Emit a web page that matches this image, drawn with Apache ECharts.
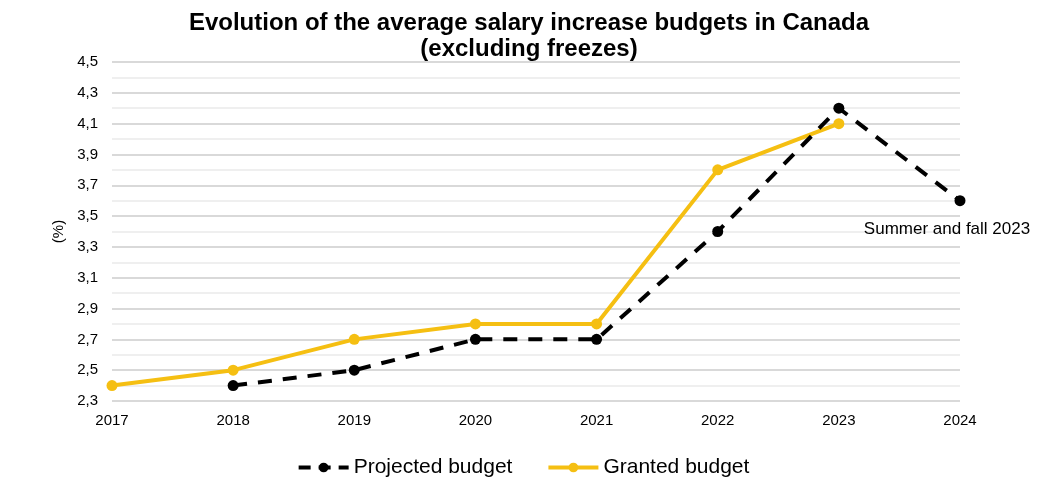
<!DOCTYPE html>
<html>
<head>
<meta charset="utf-8">
<script src="https://cdn.jsdelivr.net/npm/echarts@6/dist/echarts.min.js"></script>
<style>html,body{margin:0;padding:0;background:#fff;}#c{width:1046px;height:491px;}</style>
</head>
<body>
<div id="c"></div>
<script>
const categories = ['2017','2018','2019','2020','2021','2022','2023','2024'];
const projected = [null, 2.4, 2.5, 2.7, 2.7, 3.4, 4.2, 3.6];
const granted = [2.4, 2.5, 2.7, 2.8, 2.8, 3.8, 4.1, null];
const titleText = 'Evolution of the average salary increase budgets in Canada\n(excluding freezes)';
const annotation = 'Summer and fall 2023';

const chart = echarts.init(document.getElementById('c'));
const font = 'Liberation Sans, Arial, sans-serif';
const projData = projected.map((v, i) => {
  if (i === projected.length - 1) {
    return { value: v, label: { show: true, position: 'bottom', offset: [-13, 10], formatter: annotation, color: '#000', fontSize: 17, fontFamily: font } };
  }
  return v;
});
chart.setOption({
  animation: false,
  backgroundColor: '#fff',
  title: {
    text: titleText,
    left: 524, top: 5, textAlign: 'center',
    textStyle: { fontFamily: font, fontSize: 24, fontWeight: 'bold', color: '#000', lineHeight: 26 }
  },
  legend: {
    top: 452, left: 'center', itemGap: 34, itemWidth: 50, itemHeight: 12,
    textStyle: { fontFamily: font, fontSize: 21, color: '#000' },
    data: [
      { name: 'Projected budget', lineStyle: { width: 4, type: [12, 8], color: '#000' } },
      { name: 'Granted budget', lineStyle: { width: 4, color: '#F5BF12' } }
    ]
  },
  grid: { left: 112, right: 86, top: 62, bottom: 90 },
  xAxis: {
    type: 'category', data: categories, boundaryGap: false,
    axisLine: { show: false }, axisTick: { show: false },
    axisLabel: { fontFamily: font, fontSize: 15, color: '#000', margin: 12 }
  },
  yAxis: {
    type: 'value', min: 2.3, max: 4.5, interval: 0.2,
    name: '(%)', nameLocation: 'middle', nameGap: 42, nameRotate: 90,
    nameTextStyle: { fontFamily: font, fontSize: 15, color: '#000' },
    axisLine: { show: false }, axisTick: { show: false },
    axisLabel: { fontFamily: font, fontSize: 15, color: '#000', margin: 14,
      formatter: v => v.toFixed(1).replace('.', ',') },
    splitLine: { lineStyle: { color: '#d9d9d9', width: 2 } },
    minorTick: { show: false, splitNumber: 2 },
    minorSplitLine: { show: true, lineStyle: { color: '#efefef', width: 2 } }
  },
  series: [
    {
      name: 'Projected budget', type: 'line', data: projData,
      symbol: 'circle', symbolSize: 11, connectNulls: false,
      lineStyle: { color: '#000', width: 4, type: [14, 11] },
      itemStyle: { color: '#000' }, z: 3
    },
    {
      name: 'Granted budget', type: 'line', data: granted,
      symbol: 'circle', symbolSize: 11,
      lineStyle: { color: '#F5BF12', width: 4 },
      itemStyle: { color: '#F5BF12' }, z: 2
    }
  ]
});
</script>
</body>
</html>
